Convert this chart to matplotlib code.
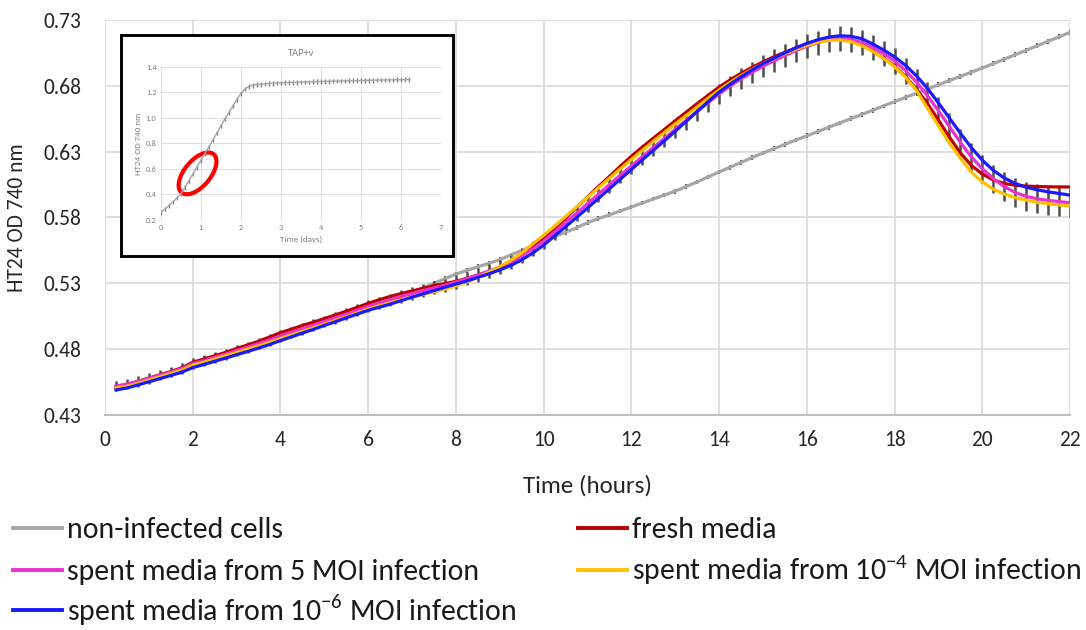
import numpy as np
import matplotlib
matplotlib.use("Agg")
import matplotlib.pyplot as plt
from matplotlib import font_manager as fm
from matplotlib.patches import Ellipse, Rectangle
from matplotlib.transforms import ScaledTranslation

# time axis: one reading every 15 min
hours = np.arange(0.25, 22.01, 0.25)

non_infected = [
    0.4510, 0.4525, 0.4545, 0.4570, 0.4595, 0.4620, 0.4645, 0.4680,
    0.4705, 0.4730, 0.4755, 0.4782, 0.4808, 0.4835, 0.4862, 0.4890,
    0.4918, 0.4945, 0.4972, 0.5000, 0.5028, 0.5055, 0.5082, 0.5110,
    0.5140, 0.5168, 0.5198, 0.5230, 0.5265, 0.5300, 0.5335, 0.5370,
    0.5398, 0.5425, 0.5452, 0.5480, 0.5515, 0.5550, 0.5585, 0.5620,
    0.5655, 0.5688, 0.5722, 0.5760, 0.5792, 0.5820, 0.5850, 0.5880,
    0.5910, 0.5940, 0.5970, 0.6000, 0.6035, 0.6070, 0.6108, 0.6145,
    0.6182, 0.6218, 0.6255, 0.6290, 0.6322, 0.6355, 0.6388, 0.6420,
    0.6452, 0.6485, 0.6518, 0.6550, 0.6582, 0.6614, 0.6647, 0.6680,
    0.6712, 0.6744, 0.6775, 0.6808, 0.6840, 0.6872, 0.6903, 0.6935,
    0.6968, 0.7002, 0.7036, 0.7070, 0.7104, 0.7138, 0.7172, 0.7206,
]

fresh_media = [
    0.4515, 0.4532, 0.4555, 0.4580, 0.4605, 0.4630, 0.4658, 0.4700,
    0.4725, 0.4750, 0.4775, 0.4805, 0.4832, 0.4860, 0.4892, 0.4925,
    0.4952, 0.4980, 0.5005, 0.5032, 0.5060, 0.5088, 0.5118, 0.5148,
    0.5175, 0.5200, 0.5222, 0.5242, 0.5262, 0.5282, 0.5298, 0.5315,
    0.5338, 0.5362, 0.5390, 0.5420, 0.5460, 0.5510, 0.5570, 0.5640,
    0.5715, 0.5795, 0.5875, 0.5955, 0.6035, 0.6112, 0.6190, 0.6265,
    0.6335, 0.6402, 0.6468, 0.6535, 0.6600, 0.6665, 0.6728, 0.6790,
    0.6845, 0.6895, 0.6940, 0.6982, 0.7020, 0.7055, 0.7088, 0.7118,
    0.7140, 0.7155, 0.7158, 0.7145, 0.7112, 0.7065, 0.7010, 0.6950,
    0.6870, 0.6775, 0.6665, 0.6540, 0.6410, 0.6290, 0.6195, 0.6130,
    0.6085, 0.6058, 0.6045, 0.6038, 0.6035, 0.6033, 0.6032, 0.6032,
]

spent_moi5 = [
    0.4520, 0.4535, 0.4555, 0.4578, 0.4602, 0.4626, 0.4652, 0.4690,
    0.4712, 0.4738, 0.4762, 0.4790, 0.4815, 0.4842, 0.4870, 0.4900,
    0.4928, 0.4955, 0.4982, 0.5010, 0.5038, 0.5065, 0.5095, 0.5125,
    0.5150, 0.5175, 0.5200, 0.5222, 0.5245, 0.5265, 0.5285, 0.5310,
    0.5335, 0.5362, 0.5392, 0.5425, 0.5462, 0.5508, 0.5562, 0.5620,
    0.5690, 0.5762, 0.5832, 0.5905, 0.5978, 0.6050, 0.6122, 0.6192,
    0.6262, 0.6332, 0.6400, 0.6470, 0.6538, 0.6605, 0.6672, 0.6738,
    0.6798, 0.6852, 0.6902, 0.6948, 0.6990, 0.7030, 0.7068, 0.7100,
    0.7128, 0.7148, 0.7158, 0.7152, 0.7130, 0.7092, 0.7045, 0.6988,
    0.6915, 0.6828, 0.6725, 0.6610, 0.6490, 0.6370, 0.6260, 0.6170,
    0.6095, 0.6035, 0.5990, 0.5960, 0.5942, 0.5930, 0.5920, 0.5912,
]

spent_moi_1e4 = [
    0.4505, 0.4518, 0.4540, 0.4565, 0.4590, 0.4614, 0.4640, 0.4678,
    0.4700, 0.4725, 0.4750, 0.4775, 0.4800, 0.4825, 0.4852, 0.4880,
    0.4908, 0.4935, 0.4962, 0.4990, 0.5018, 0.5045, 0.5075, 0.5105,
    0.5130, 0.5152, 0.5175, 0.5195, 0.5215, 0.5235, 0.5255, 0.5280,
    0.5310, 0.5345, 0.5385, 0.5428, 0.5475, 0.5530, 0.5600, 0.5665,
    0.5735, 0.5808, 0.5880, 0.5952, 0.6025, 0.6098, 0.6170, 0.6240,
    0.6310, 0.6378, 0.6445, 0.6510, 0.6575, 0.6640, 0.6705, 0.6768,
    0.6825, 0.6878, 0.6925, 0.6968, 0.7008, 0.7045, 0.7078, 0.7108,
    0.7132, 0.7145, 0.7148, 0.7135, 0.7105, 0.7062, 0.7008, 0.6945,
    0.6865, 0.6765, 0.6630, 0.6495, 0.6365, 0.6250, 0.6145, 0.6070,
    0.6015, 0.5978, 0.5950, 0.5932, 0.5915, 0.5905, 0.5896, 0.5888,
]

spent_moi_1e6 = [
    0.4490, 0.4505, 0.4528, 0.4552, 0.4576, 0.4600, 0.4625, 0.4660,
    0.4683, 0.4708, 0.4732, 0.4758, 0.4782, 0.4808, 0.4835, 0.4865,
    0.4893, 0.4922, 0.4950, 0.4980, 0.5008, 0.5038, 0.5066, 0.5095,
    0.5118, 0.5142, 0.5168, 0.5195, 0.5220, 0.5245, 0.5270, 0.5295,
    0.5318, 0.5345, 0.5372, 0.5402, 0.5435, 0.5478, 0.5530, 0.5590,
    0.5660, 0.5730, 0.5800, 0.5872, 0.5945, 0.6018, 0.6092, 0.6165,
    0.6238, 0.6310, 0.6382, 0.6455, 0.6530, 0.6605, 0.6680, 0.6752,
    0.6812, 0.6868, 0.6920, 0.6968, 0.7010, 0.7050, 0.7088, 0.7122,
    0.7150, 0.7170, 0.7180, 0.7176, 0.7158, 0.7118, 0.7072, 0.7020,
    0.6955, 0.6875, 0.6780, 0.6670, 0.6555, 0.6440, 0.6330, 0.6235,
    0.6158, 0.6100, 0.6058, 0.6030, 0.6010, 0.5995, 0.5982, 0.5970,
]

# standard deviation of the infected-media replicates
sd_spent = [
    0.0038, 0.0038, 0.0039, 0.0039, 0.0039, 0.0040, 0.0040, 0.0040,
    0.0041, 0.0041, 0.0041, 0.0042, 0.0042, 0.0042, 0.0043, 0.0043,
    0.0043, 0.0044, 0.0044, 0.0044, 0.0045, 0.0045, 0.0045, 0.0046,
    0.0046, 0.0047, 0.0047, 0.0048, 0.0048, 0.0049, 0.0049, 0.0050,
    0.0050, 0.0051, 0.0052, 0.0053, 0.0054, 0.0055, 0.0056, 0.0057,
    0.0058, 0.0059, 0.0060, 0.0060, 0.0061, 0.0062, 0.0063, 0.0064,
    0.0065, 0.0066, 0.0067, 0.0068, 0.0070, 0.0072, 0.0074, 0.0076,
    0.0078, 0.0080, 0.0082, 0.0084, 0.0086, 0.0088, 0.0090, 0.0090,
    0.0091, 0.0092, 0.0093, 0.0094, 0.0095, 0.0096, 0.0097, 0.0098,
    0.0099, 0.0100, 0.0101, 0.0102, 0.0103, 0.0104, 0.0105, 0.0106,
    0.0107, 0.0108, 0.0108, 0.0109, 0.0109, 0.0110, 0.0110, 0.0110,
]
sd_non_infected = 0.0018

# inset: full growth curve of uninfected culture (days)
inset_days = np.round(np.arange(0.0, 6.21, 0.1), 1)
inset_od = [
    0.260, 0.285, 0.312, 0.340, 0.372, 0.405, 0.455, 0.505, 0.560, 0.612,
    0.665, 0.718, 0.770, 0.825, 0.880, 0.935, 0.990, 1.040, 1.092, 1.142,
    1.190, 1.225, 1.245, 1.255, 1.260, 1.263, 1.266, 1.268, 1.270, 1.272,
    1.274, 1.275, 1.276, 1.277, 1.278, 1.279, 1.280, 1.281, 1.282, 1.283,
    1.284, 1.285, 1.286, 1.287, 1.287, 1.288, 1.289, 1.290, 1.290, 1.291,
    1.292, 1.293, 1.293, 1.294, 1.295, 1.296, 1.296, 1.297, 1.297, 1.298,
    1.298, 1.299, 1.300,
]


def pick_font(cands):
    for name in cands:
        try:
            fm.findfont(fm.FontProperties(family=name), fallback_to_default=False)
            return name
        except Exception:
            pass
    return "DejaVu Sans"


font = pick_font(["Carlito", "Lato", "Open Sans"])
plt.rcParams["font.family"] = font
plt.rcParams["mathtext.fontset"] = "custom"
plt.rcParams["mathtext.rm"] = font

fig = plt.figure(figsize=(10.86, 6.30), dpi=100)
ax = fig.add_axes([0.0967, 0.3413, 0.8886, 0.6270])

grey_line = "#A6A6A6"
err_col = "#4D4D4D"
lw = 2.3
txt = "#262626"

ax.errorbar(hours, non_infected, yerr=sd_non_infected, fmt="none",
            ecolor=err_col, elinewidth=1.3, capsize=0, zorder=2)
l_gray, = ax.plot(hours, non_infected, color=grey_line, lw=lw, zorder=2.5)
ax.errorbar(hours, spent_moi5, yerr=sd_spent, fmt="none",
            ecolor=err_col, elinewidth=1.8, capsize=0, zorder=3)
l_red, = ax.plot(hours, fresh_media, color="#C00000", lw=lw, zorder=4)
l_pink, = ax.plot(hours, spent_moi5, color="#E933D0", lw=lw, zorder=4)
l_yel, = ax.plot(hours, spent_moi_1e4, color="#FFC000", lw=lw, zorder=4)
l_blue, = ax.plot(hours, spent_moi_1e6, color="#1A1AFF", lw=lw, zorder=4)

yt = np.arange(0.43, 0.7301, 0.05)
ax.set_xlim(0, 22)
ax.set_ylim(0.43, 0.73)
ax.set_xticks(np.arange(0, 23, 2))
ax.set_yticks(yt)
ax.set_yticklabels([f"{v:.2f}" for v in yt])
ax.grid(True, color="#D9D9D9", lw=1.2)
ax.set_axisbelow(True)
for s in ["top", "right", "left"]:
    ax.spines[s].set_visible(False)
ax.spines["bottom"].set_color("#BFBFBF")
ax.spines["bottom"].set_linewidth(1.5)
ax.tick_params(length=0, labelcolor=txt)
ax.tick_params(axis="y", pad=17, labelsize=15.5)
ax.tick_params(axis="x", pad=11, labelsize=15.5)
ax.set_ylabel("HT24 OD 740 nm", fontsize=15.5, color=txt, labelpad=12)
ax.set_xlabel("Time (hours)", fontsize=18, color=txt, labelpad=18)

# inset frame + mini chart
frame = Rectangle((0.1114, 0.5937), 0.3057, 0.3508, transform=fig.transFigure,
                  facecolor="white", edgecolor="black", lw=2.1, zorder=5)
fig.add_artist(frame)

ins = fig.add_axes([0.148, 0.6508, 0.258, 0.2433], zorder=6)
ins.set_facecolor("white")
ins.errorbar(inset_days, inset_od, yerr=0.018, fmt="none", ecolor="#808080",
             elinewidth=1.0, capsize=0)
ins.plot(inset_days, inset_od, color="#A6A6A6", lw=1.0)
ins.set_xlim(0, 7)
ins.set_ylim(0.2, 1.4)
ins.set_xticks(range(0, 8))
ins.set_yticks([0.2, 0.4, 0.6, 0.8, 1.0, 1.2, 1.4])
ins.set_yticklabels(["0.2", "0.4", "0.6", "0.8", "1.0", "1.2", "1.4"])
ins.grid(True, color="#D9D9D9", lw=0.6)
ins.set_axisbelow(True)
for s in ins.spines.values():
    s.set_visible(False)
ins.tick_params(length=0, labelsize=6, labelcolor="#7F7F7F", pad=3)
ins.set_title("TAP+v", fontsize=7.5, color="#7F7F7F", pad=8)
ins.set_xlabel("Time (days)", fontsize=6.5, color="#7F7F7F", labelpad=3)
ins.set_ylabel("HT24 OD 740 nm", fontsize=6.5, color="#7F7F7F", labelpad=3)

ring = Ellipse((0, 0), width=0.50, height=0.26, angle=50, fill=False,
               edgecolor="#FF0000", lw=3.0,
               transform=fig.dpi_scale_trans + ScaledTranslation(0.92, 0.565, ins.transData))
ins.add_artist(ring)

# legend: one entry per slot so rows sit exactly like the original
entries = [
    (l_gray, "non-infected cells", 0.012, 0.1587),
    (l_pink, "spent media from 5 MOI infection", 0.012, 0.0921),
    (l_blue, r"spent media from 10$^{\mathregular{-6}}$ MOI infection", 0.012, 0.0320),
    (l_red, "fresh media", 0.532, 0.1587),
    (l_yel, r"spent media from 10$^{\mathregular{-4}}$ MOI infection", 0.532, 0.0955),
]
for handle, label, lx, ly in entries:
    lg = fig.legend([handle], [label], loc="center left", bbox_to_anchor=(lx, ly),
                    frameon=False, prop={"size": 21.5}, handlelength=1.65,
                    handletextpad=0.17, borderaxespad=0, borderpad=0,
                    labelcolor="#1A1A1A")
    lg.legend_handles[0].set_linewidth(2.8)

fig.savefig("out.png", dpi=100)
